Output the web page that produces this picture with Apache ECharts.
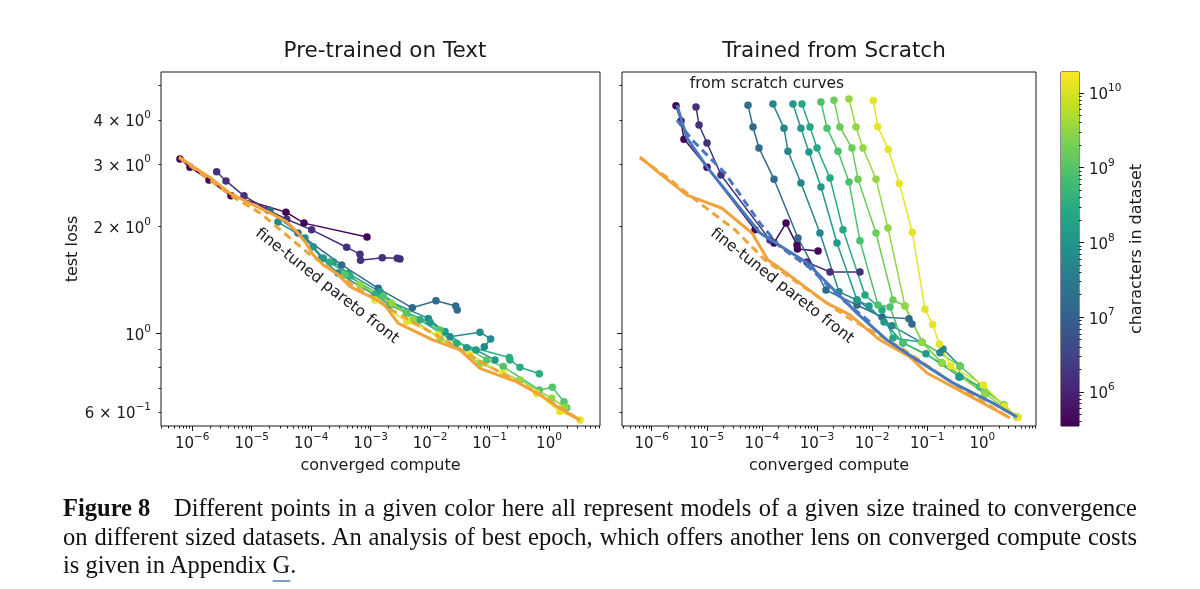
<!DOCTYPE html>
<html>
<head>
<meta charset="utf-8">
<script src="https://cdn.jsdelivr.net/npm/echarts@6.0.0/dist/echarts.min.js"></script>
<style>
  body { margin: 0; background: #fff; }
  #chart { position: absolute; left: 0; top: 0; width: 1200px; height: 589px; }
  #caption { position: absolute; left: 63px; top: 494px; width: 1074px; font-family: 'Liberation Serif', serif; font-size: 24.5px; line-height: 28.5px; color: #111; }
  #caption div { white-space: nowrap; }
  #caption .j { text-align: justify; text-align-last: justify; }
  #caption .fig { display: inline-block; width: 111px; font-weight: bold; text-align: left; text-align-last: left; }
  #caption .g { text-decoration: underline; text-decoration-color: #7f9bd4; text-decoration-thickness: 2px; text-underline-offset: 7px; }
</style>
</head>
<body>
<div id="chart"></div>
<div id="caption">
  <div class="j"><span class="fig">Figure 8</span>Different points in a given color here all represent models of a given size trained to convergence</div>
  <div class="j">on different sized datasets. An analysis of best epoch, which offers another lens on converged compute costs</div>
  <div>is given in Appendix <span class="g">G</span>.</div>
</div>
<script>
var chart = echarts.init(document.getElementById('chart'))

// axis extents, in log10 units
var leftX = [-6.526, 0.858]
var rightX = [-6.539, 0.975]
var lossY = [-0.2616, 0.7375]
var cbarMin = 5.545, cbarMax = 10.28

// tick labels
var computeTicks = [-6, -5, -4, -3, -2, -1, 0]
var lossTicks = [0.6, 1, 2, 3, 4]
var charTicks = [6, 7, 8, 9, 10]

// every point is [log10 converged compute, log10 test loss]
// curve colour = log10 characters in dataset

// --- Pre-trained on Text ---
var textLevels = [5.6, 6.2, 7.2, 7.8, 8.1, 8.5, 9.0, 9.5, 10.1]
var text1 = [[-6.207, 0.492], [-6.039, 0.469], [-5.719, 0.433], [-5.349, 0.388], [-4.424, 0.342], [-4.121, 0.311], [-3.061, 0.272]]
var text2 = [[-5.590, 0.456], [-5.433, 0.430], [-5.130, 0.388], [-4.727, 0.348], [-4.412, 0.322], [-3.992, 0.292], [-3.403, 0.243], [-3.179, 0.223], [-3.170, 0.206], [-2.805, 0.213], [-2.552, 0.212], [-2.506, 0.210]]
var text3 = [[-4.693, 0.347], [-4.222, 0.283], [-3.487, 0.193], [-2.871, 0.127], [-2.299, 0.072], [-1.901, 0.092], [-1.569, 0.077], [-1.543, 0.066]]
var text4 = [[-4.559, 0.314], [-4.104, 0.269], [-3.823, 0.212], [-3.549, 0.170], [-2.927, 0.108], [-2.030, 0.042], [-1.665, -0.010], [-1.161, 0.003], [-0.981, -0.016], [-1.088, -0.038]]
var text5 = [[-3.964, 0.244], [-3.796, 0.212], [-3.628, 0.202], [-3.376, 0.169], [-2.843, 0.117], [-2.394, 0.058], [-2.002, 0.031], [-1.749, 0.005], [-1.384, -0.041], [-1.228, -0.047], [-0.908, -0.075]]
var text6 = [[-3.684, 0.201], [-3.347, 0.162], [-2.927, 0.108], [-2.675, 0.080], [-2.170, 0.038], [-1.553, -0.028], [-0.668, -0.068], [-0.656, -0.075], [-0.488, -0.096], [-0.163, -0.114]]
var text7 = [[-3.431, 0.165], [-2.787, 0.105], [-2.394, 0.058], [-1.833, 0.009], [-1.048, -0.075], [-0.769, -0.094], [-0.163, -0.160], [0.056, -0.152], [0.252, -0.193], [0.298, -0.210]]
var text8 = [[-3.179, 0.136], [-2.646, 0.085], [-2.283, 0.038], [-1.833, -0.014], [-1.161, -0.085], [-0.488, -0.132], [0.045, -0.183], [0.269, -0.209]]
var text9 = [[-2.927, 0.094], [-2.394, 0.033], [-1.862, -0.005], [-1.329, -0.061], [-0.769, -0.113], [-0.207, -0.169], [0.185, -0.221], [0.522, -0.245]]
var textFront = [[-6.219, 0.498], [-5.983, 0.470], [-5.702, 0.440], [-5.366, 0.395], [-5.029, 0.367], [-4.693, 0.340], [-4.412, 0.315], [-4.244, 0.287], [-4.104, 0.259], [-3.964, 0.221], [-3.796, 0.193], [-3.571, 0.169], [-3.347, 0.132], [-3.123, 0.113], [-2.787, 0.085], [-2.535, 0.028], [-1.946, -0.019], [-1.497, -0.047], [-1.161, -0.099], [-0.543, -0.137], [-0.096, -0.179], [0.185, -0.212], [0.522, -0.245]]
var textFrontFit = [[-6.224, 0.496], [-5.315, 0.385], [-4.861, 0.340], [-4.071, 0.229], [-3.347, 0.142], [-2.557, 0.057], [-1.665, -0.027], [-1.110, -0.084], [-0.269, -0.160], [0.522, -0.245]]

// --- Trained from Scratch ---
var scratchLevels = [5.6, 6.2, 7.2, 7.7, 8.1, 8.4, 8.9, 9.2, 9.5, 10.1]
var scratch1 = [[-5.559, 0.642], [-5.468, 0.599], [-5.414, 0.548], [-4.996, 0.469], [-4.125, 0.292], [-3.780, 0.255], [-3.562, 0.311], [-3.363, 0.249], [-3.355, 0.238], [-2.981, 0.232]]
var scratch2 = [[-5.196, 0.639], [-5.141, 0.588], [-4.996, 0.537], [-4.742, 0.447], [-3.853, 0.263], [-3.182, 0.201], [-2.764, 0.173], [-2.220, 0.173]]
var scratch3 = [[-4.252, 0.644], [-4.161, 0.582], [-4.053, 0.523], [-3.780, 0.435], [-3.345, 0.269], [-2.837, 0.122], [-2.274, 0.080], [-1.820, 0.046], [-1.330, 0.041], [-1.276, 0.026]]
var scratch4 = [[-3.799, 0.647], [-3.599, 0.579], [-3.527, 0.514], [-3.291, 0.424], [-2.946, 0.283], [-2.601, 0.117], [-2.274, 0.094], [-1.639, 0.021], [-0.768, -0.055], [-0.713, -0.044], [-0.405, -0.092], [-0.423, -0.123]]
var scratch5 = [[-3.436, 0.647], [-3.291, 0.579], [-3.146, 0.512], [-2.928, 0.413], [-2.637, 0.255], [-2.274, 0.094], [-2.056, 0.077], [-1.784, 0.032], [-1.439, -0.027], [-1.022, -0.058], [-0.405, -0.123], [-0.042, -0.151]]
var scratch6 = [[-3.272, 0.647], [-3.127, 0.582], [-3.000, 0.523], [-2.764, 0.438], [-2.528, 0.292], [-2.129, 0.108], [-1.820, 0.066], [-1.621, -0.013], [-1.094, -0.025], [-0.731, -0.084], [0.049, -0.171]]
var scratch7 = [[-2.928, 0.653], [-2.818, 0.579], [-2.619, 0.514], [-2.419, 0.427], [-2.220, 0.261], [-1.893, 0.080], [-1.675, 0.074], [-1.439, -0.027], [-0.731, -0.084], [-0.042, -0.151], [0.394, -0.202]]
var scratch8 = [[-2.692, 0.658], [-2.583, 0.582], [-2.365, 0.523], [-2.256, 0.435], [-1.929, 0.283], [-1.621, 0.094], [-1.403, 0.077], [-1.094, -0.025], [-0.405, -0.092], [0.394, -0.202], [0.630, -0.236]]
var scratch9 = [[-2.419, 0.661], [-2.292, 0.582], [-2.165, 0.523], [-1.929, 0.435], [-1.711, 0.297], [-1.403, 0.077], [-1.094, -0.025], [-0.731, -0.084], [0.049, -0.171], [0.630, -0.236]]
var scratch10 = [[-1.978, 0.657], [-1.898, 0.583], [-1.706, 0.519], [-1.506, 0.423], [-1.270, 0.285], [-1.040, 0.068], [-0.900, 0.025], [-0.780, -0.030], [-0.573, -0.092], [0.018, -0.146], [0.399, -0.205], [0.653, -0.237]]
var scratchFront = [[-6.212, 0.498], [-5.885, 0.455], [-5.359, 0.390], [-4.724, 0.353], [-4.179, 0.283], [-3.889, 0.207], [-3.580, 0.173], [-3.218, 0.131], [-2.818, 0.085], [-2.401, 0.052], [-1.857, -0.019], [-1.312, -0.067], [-1.004, -0.112], [-0.532, -0.151], [-0.096, -0.188], [0.503, -0.239]]
var scratchFrontFit = [[-6.212, 0.495], [-5.704, 0.438], [-5.033, 0.356], [-4.488, 0.292], [-3.944, 0.207], [-3.345, 0.142], [-2.455, 0.046], [-1.494, -0.039], [-0.405, -0.154], [0.503, -0.239]]
var scratchEnvelope = [[-5.541, 0.644], [-5.359, 0.551], [-4.996, 0.469], [-4.034, 0.283], [-3.182, 0.199], [-2.274, 0.057], [-1.730, -0.019], [-1.185, -0.075], [-0.532, -0.140], [0.194, -0.197], [0.630, -0.236]]
var scratchEnvelopeFit = [[-5.541, 0.602], [-5.268, 0.546], [-4.669, 0.452], [-4.034, 0.311], [-3.671, 0.244], [-3.127, 0.184], [-2.528, 0.094], [-2.038, 0.032]]

var textCurves = [text1, text2, text3, text4, text5, text6, text7, text8, text9]
var scratchCurves = [scratch1, scratch2, scratch3, scratch4, scratch5, scratch6, scratch7, scratch8, scratch9, scratch10]

var font = 'DejaVu Sans'
var ink = '#1a1a1a'
var orange = '#f0a33a'
var blue = '#4677bf'
var viridis = ['#440154', '#482475', '#414487', '#355f8d', '#2a788e', '#21918c', '#22a884', '#44bf70', '#7ad151', '#bddf26', '#fde725']

function hex(h) {
  return [1, 3, 5].map(function (i) { return parseInt(h.substr(i, 2), 16) })
}
function viridisColor(v) {
  var t = Math.max(0, Math.min(1, (v - cbarMin) / (cbarMax - cbarMin))) * 10
  var i = Math.min(9, Math.floor(t)), f = t - i
  var a = hex(viridis[i]), b = hex(viridis[i + 1])
  return 'rgb(' + [0, 1, 2].map(function (k) { return Math.round(a[k] + (b[k] - a[k]) * f) }).join(',') + ')'
}

function minorLogTicks(lo, hi) {
  var out = []
  for (var e = Math.floor(lo); e <= Math.ceil(hi); e++) {
    for (var k = 2; k <= 9; k++) {
      var v = e + Math.log10(k)
      if (v > lo && v < hi) out.push(v)
    }
  }
  return out
}

function sup(e) { return (e < 0 ? '\u2212' : '') + Math.abs(e) }
function powLabel(v) { return '{b|10}{s|' + sup(Math.round(v)) + '}' }
function lossLabel(v) {
  var e = Math.floor(v + 1e-9)
  var m = Math.round(Math.pow(10, v - e))
  return m === 1 ? powLabel(e) : '{b|' + m + ' \u00d7 10}{s|' + sup(e) + '}'
}

var rich = {
  b: { fontFamily: font, fontSize: 15, color: ink, lineHeight: 20, verticalAlign: 'bottom' },
  s: { fontFamily: font, fontSize: 10.5, color: ink, lineHeight: 10, verticalAlign: 'top' }
}
var nameStyle = { fontFamily: font, fontSize: 16, color: ink }

function makeAxis(grid, range, pos, ticks, len, labels, fmt, margin) {
  return {
    type: 'value', gridIndex: grid, position: pos, min: range[0], max: range[1],
    splitLine: { show: false },
    axisLine: { show: false, onZero: false },
    axisTick: { show: true, length: len, customValues: ticks, lineStyle: { color: ink, width: 1 } },
    axisLabel: labels ? { show: true, customValues: labels, formatter: fmt, rich: rich, margin: margin } : { show: false }
  }
}

var lossLogTicks = lossTicks.map(function (v) { return Math.log10(v) })

var xAxes = [
  makeAxis(0, leftX, 'bottom', computeTicks, 5, computeTicks, powLabel, 6),
  makeAxis(0, leftX, 'bottom', minorLogTicks(leftX[0], leftX[1]), 2.5),
  makeAxis(1, rightX, 'bottom', computeTicks, 5, computeTicks, powLabel, 6),
  makeAxis(1, rightX, 'bottom', minorLogTicks(rightX[0], rightX[1]), 2.5),
  { type: 'value', gridIndex: 2, min: 0, max: 1, show: false, axisLine: { onZero: false } }
]
xAxes[0].name = xAxes[2].name = 'converged compute'
xAxes[0].nameLocation = xAxes[2].nameLocation = 'middle'
xAxes[0].nameGap = xAxes[2].nameGap = 32
xAxes[0].nameTextStyle = xAxes[2].nameTextStyle = nameStyle

var yAxes = [
  makeAxis(0, lossY, 'left', [0], 5, lossLogTicks, lossLabel, 10),
  makeAxis(0, lossY, 'left', minorLogTicks(lossY[0], lossY[1]), 2.5),
  makeAxis(1, lossY, 'left', [0], 5),
  makeAxis(1, lossY, 'left', minorLogTicks(lossY[0], lossY[1]), 2.5),
  makeAxis(2, [cbarMin, cbarMax], 'right', charTicks, 5, charTicks, powLabel, 10),
  makeAxis(2, [cbarMin, cbarMax], 'right', minorLogTicks(cbarMin, cbarMax), 2.5)
]
yAxes[0].name = 'test loss'
yAxes[0].nameLocation = 'middle'
yAxes[0].nameRotate = 90
yAxes[0].nameGap = 80
yAxes[0].nameTextStyle = nameStyle
yAxes[4].name = 'characters in dataset'
yAxes[4].nameLocation = 'middle'
yAxes[4].nameRotate = 90
yAxes[4].nameGap = 50
yAxes[4].nameTextStyle = nameStyle

function curve(data, level, idx) {
  var c = viridisColor(level)
  return {
    type: 'line', xAxisIndex: idx, yAxisIndex: idx, data: data, z: 2,
    symbol: 'circle', symbolSize: 7.5, showSymbol: true,
    lineStyle: { color: c, width: 1.5 }, itemStyle: { color: c }
  }
}
function front(data, color, dashed, idx) {
  return {
    type: 'line', xAxisIndex: idx, yAxisIndex: idx, data: data, z: 3, symbol: 'none',
    lineStyle: { color: color, width: 3, type: dashed ? [8, 5] : 'solid' }
  }
}

var series = []
textCurves.forEach(function (d, i) { series.push(curve(d, textLevels[i], 0)) })
series.push(front(textFront, orange, false, 0), front(textFrontFit, orange, true, 0))
scratchCurves.forEach(function (d, i) { series.push(curve(d, scratchLevels[i], 2)) })
series.push(front(scratchFront, orange, false, 2), front(scratchFrontFit, orange, true, 2))
series.push(front(scratchEnvelope, blue, false, 2), front(scratchEnvelopeFit, blue, true, 2))

// colour bar
series.push({
  type: 'custom', xAxisIndex: 4, yAxisIndex: 4, data: [[0, cbarMin, 1, cbarMax]],
  renderItem: function (params, api) {
    var p0 = api.coord([api.value(0), api.value(1)])
    var p1 = api.coord([api.value(2), api.value(3)])
    return {
      type: 'rect',
      shape: { x: p0[0], y: p1[1], width: p1[0] - p0[0], height: p0[1] - p1[1] },
      style: {
        fill: new echarts.graphic.LinearGradient(0, 1, 0, 0, viridis.map(function (c, i) { return { offset: i / 10, color: c } }))
      }
    }
  }
})

var gridBox = { show: true, borderColor: ink, borderWidth: 1, backgroundColor: 'transparent', containLabel: false, outerBoundsMode: 'none' }
var titleStyle = { fontFamily: font, fontSize: 21.5, fontWeight: 'normal', color: ink }

var option = {
  animation: false,
  backgroundColor: '#fff',
  title: [
    { text: 'Pre-trained on Text', left: 380, top: 35, textAlign: 'center', textStyle: titleStyle },
    { text: 'Trained from Scratch', left: 829, top: 35, textAlign: 'center', textStyle: titleStyle }
  ],
  grid: [
    Object.assign({ left: 161, top: 72, width: 439, height: 354 }, gridBox),
    Object.assign({ left: 622, top: 72, width: 414, height: 354 }, gridBox),
    Object.assign({ left: 1061, top: 72, width: 18, height: 354 }, gridBox)
  ],
  xAxis: xAxes,
  yAxis: yAxes,
  series: series,
  graphic: [
    { type: 'text', x: 327, y: 286, rotation: -38 * Math.PI / 180, z: 10, style: { text: 'fine-tuned pareto front', font: '15.5px "DejaVu Sans"', fill: ink, align: 'center', verticalAlign: 'middle' } },
    { type: 'text', x: 782, y: 286, rotation: -38 * Math.PI / 180, z: 10, style: { text: 'fine-tuned pareto front', font: '15.5px "DejaVu Sans"', fill: ink, align: 'center', verticalAlign: 'middle' } },
    { type: 'text', x: 767, y: 84, z: 10, style: { text: 'from scratch curves', font: '15.5px "DejaVu Sans"', fill: ink, align: 'center', verticalAlign: 'middle' } }
  ]
}
chart.setOption(option)
</script>
</body>
</html>
